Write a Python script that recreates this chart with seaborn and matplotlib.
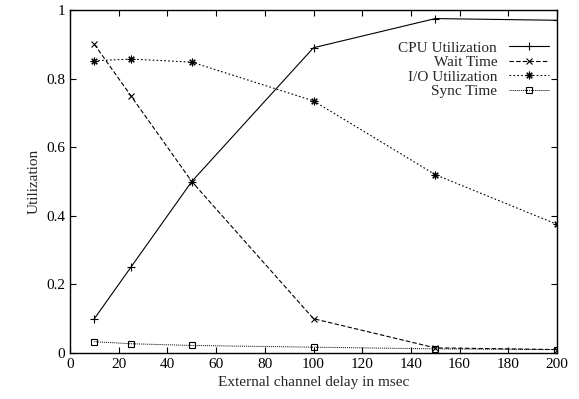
import matplotlib
matplotlib.use("Agg")
import matplotlib.pyplot as plt
import seaborn as sns
import pandas as pd

delay = [10, 25, 50, 100, 150, 200]
cpu_util = [0.10, 0.25, 0.50, 0.89, 0.975, 0.97]
wait_time = [0.90, 0.75, 0.50, 0.10, 0.015, 0.01]
io_util = [0.852, 0.857, 0.848, 0.735, 0.52, 0.375]
sync_time = [0.033, 0.027, 0.022, 0.017, 0.012, 0.01]

series_names = ["CPU Utilization", "Wait Time", "I/O Utilization", "Sync Time"]
series_vals = [cpu_util, wait_time, io_util, sync_time]

sns.set_theme(style="ticks")
plt.rcParams['font.family'] = ['Liberation Serif', 'DejaVu Serif']

fig = plt.figure(figsize=(5.79, 3.99), dpi=100)
ax = fig.add_axes([70/579, 1 - 353/399, (557-70)/579, (353-10)/399])

styles = [
    dict(linestyle='-', marker='+', markersize=6, linewidth=0.8),
    dict(linestyle=(0, (4, 2)), marker='x', markersize=4.5, linewidth=0.8),
    dict(linestyle=(0, (1.5, 2)), marker=(8, 2, 0), markersize=5.5, linewidth=0.8),
    dict(linestyle=(0, (1, 1)), marker='s', markersize=4.5, linewidth=0.7, markerfacecolor='none'),
]

for name, vals, st in zip(series_names, series_vals, styles):
    df = pd.DataFrame({"x": delay, "y": vals})
    sns.lineplot(data=df, x="x", y="y", ax=ax, color='black', label=name,
                 markeredgecolor='black', markeredgewidth=0.8, **st)

ax.set_xlim(0, 200)
ax.set_ylim(0, 1)
ax.set_xticks(range(0, 201, 20))
ax.set_yticks([0, 0.2, 0.4, 0.6, 0.8, 1])
ax.set_yticklabels(['0', '0.2', '0.4', '0.6', '0.8', '1'])
ax.tick_params(direction='in', top=True, right=True, labelsize=11, length=4, width=0.8, colors='black')
for s in ax.spines.values():
    s.set_linewidth(1.0)
    s.set_color('black')
ax.set_xlabel("External channel delay in msec", fontsize=11)
ax.set_ylabel("Utilization", fontsize=11)

leg = ax.legend(loc='upper right', frameon=False, markerfirst=False, fontsize=11,
                handlelength=2.6, labelspacing=0.05, borderaxespad=0.5, bbox_to_anchor=(1.012, 0.95))
for t in leg.get_texts():
    t.set_ha('right')
leg._legend_box.align = "right"

fig.savefig("out.png", dpi=100)
